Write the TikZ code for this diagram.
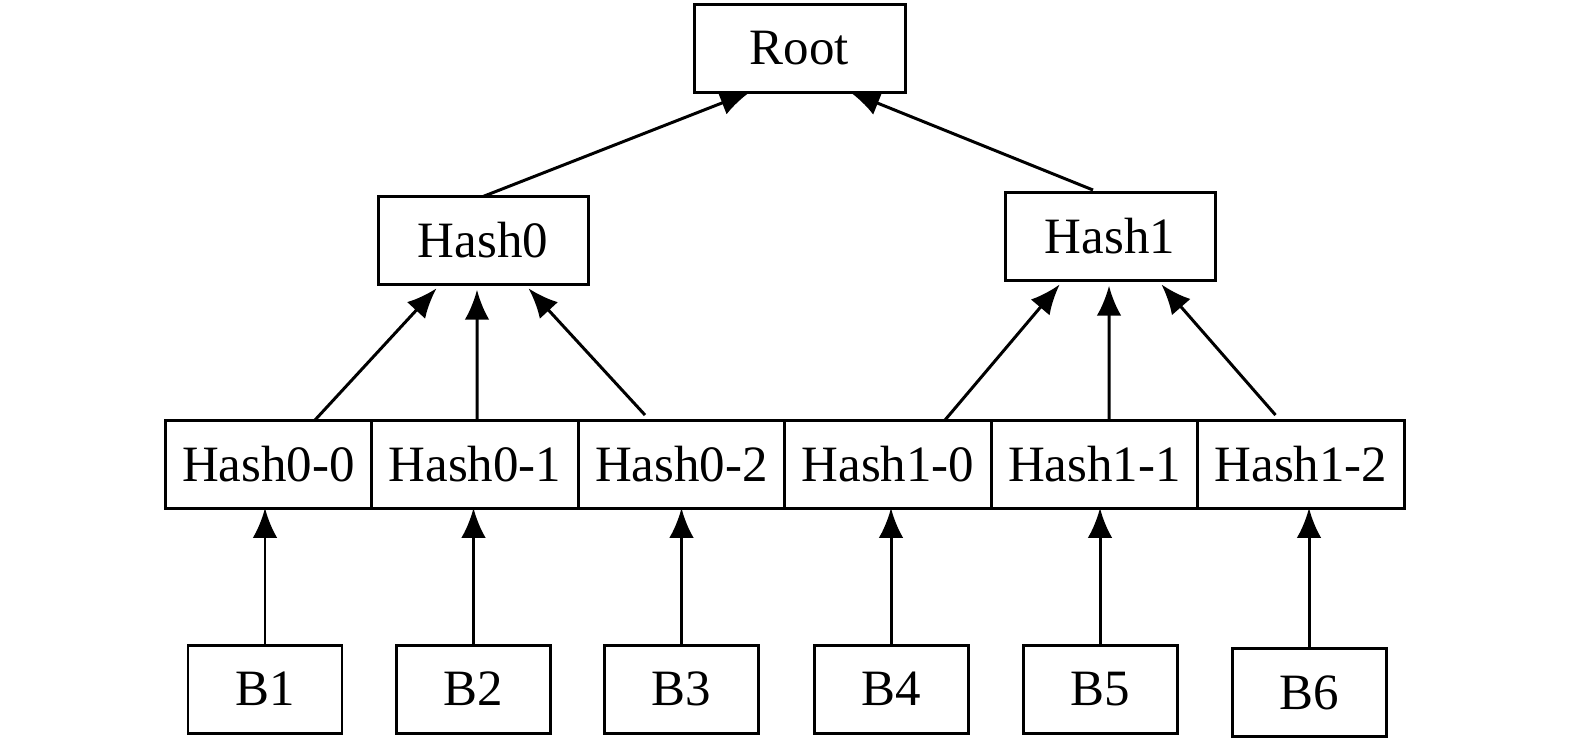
\documentclass[tikz,border=0pt]{standalone}
\usepackage{fontspec}
\setmainfont{Liberation Serif}
\usetikzlibrary{arrows.meta,positioning,calc}

\begin{document}
\begin{tikzpicture}[
  box/.style={draw,line width=1.7pt,inner sep=0pt,outer sep=0pt,
    minimum height=1.76cm,font=\fontsize{29}{35}\selectfont},
  cell/.style={box,minimum width=4.13cm},
  blk/.style={box,minimum width=3.08cm},
  flow/.style={-{Latex[length=17pt,width=14pt]},line width=1.7pt}
]
\useasboundingbox (0,0) rectangle (31.5,-14.88);
% top of the tree
\node[box,minimum width=4.22cm] (root) at (15.99,-0.96) {Root};
\node[box,minimum width=4.2cm] (hash0) at (9.66,-4.81) {Hash0};
\node[box,minimum width=4.2cm] (hash1) at (22.2,-4.73) {Hash1};
% row of leaf hashes
\node[cell] (h00) at (5.37,-9.28) {Hash0-0};
\node[cell,right=0pt of h00] (h01) {Hash0-1};
\node[cell,right=0pt of h01] (h02) {Hash0-2};
\node[cell,right=0pt of h02] (h10) {Hash1-0};
\node[cell,right=0pt of h10] (h11) {Hash1-1};
\node[cell,right=0pt of h11] (h12) {Hash1-2};
% blocks
\node[blk] (b1) at (5.3,-13.78) {B1};
\node[blk] (b2) at (9.47,-13.78) {B2};
\node[blk] (b3) at (13.63,-13.78) {B3};
\node[blk] (b4) at (17.82,-13.78) {B4};
\node[blk] (b5) at (22.0,-13.78) {B5};
\node[blk] (b6) at (26.18,-13.85) {B6};
% blocks to leaves
\draw[flow] (b1.north) -- (b1.north |- h00.south);
\draw[flow] (b2.north) -- (b2.north |- h01.south);
\draw[flow] (b3.north) -- (b3.north |- h02.south);
\draw[flow] (b4.north) -- (b4.north |- h10.south);
\draw[flow] (b5.north) -- (b5.north |- h11.south);
\draw[flow] (b6.north) -- (b6.north |- h12.south);
% leaves to hashes
\draw[flow,shorten >=3pt] ($(h00.north)+(0.93,0)$) -- ($(hash0.south)+(-0.86,0)$);
\draw[flow,shorten >=3pt] ($(h01.north)+(0.04,0)$) -- ($(hash0.south)+(-0.12,0)$);
\draw[flow,shorten >=3pt] ($(h02.north)+(-0.73,0.1)$) -- ($(hash0.south)+(0.84,0)$);
\draw[flow,shorten >=3pt] ($(h10.north)+(1.14,0)$) -- ($(hash1.south)+(-0.94,0)$);
\draw[flow,shorten >=3pt] ($(h11.north)+(0.29,0)$) -- ($(hash1.south)+(-0.02,0)$);
\draw[flow,shorten >=3pt] ($(h12.north)+(-0.51,0.1)$) -- ($(hash1.south)+(0.96,0)$);
% hashes to root
\draw[flow] (hash0.north) -- ($(root.south)+(-0.99,0)$);
\draw[flow] ($(hash1.north)+(-0.34,0.05)$) -- ($(root.south)+(1.01,0)$);
\end{tikzpicture}
\end{document}
